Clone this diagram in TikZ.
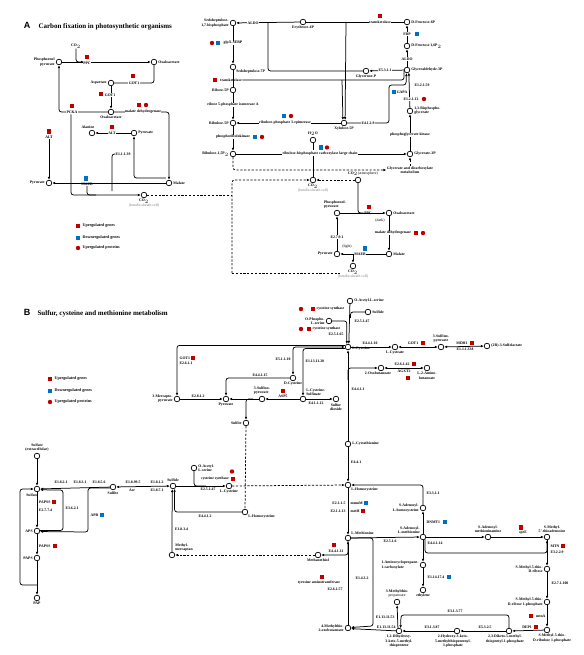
\documentclass[tikz,border=0pt]{standalone}
\usepackage{fontspec}
\setmainfont{Liberation Serif}
\newfontfamily\headfont{Liberation Sans}
\usetikzlibrary{arrows.meta}
\definecolor{upred}{HTML}{C00000}
\definecolor{dnblue}{HTML}{0070C0}
\newcommand{\lbl}{\fontsize{3.8}{4.2}\selectfont\bfseries}
\newcommand{\leg}{\fontsize{4.1}{4.6}\selectfont\bfseries}

\begin{document}
\begin{tikzpicture}[x=1pt,y=-1pt,
	>={Latex[length=3pt,width=2.6pt]},
	rx/.style={line width=0.75pt, rounded corners=2.5pt},
	dsh/.style={line width=0.75pt, dash pattern=on 2.2pt off 1.6pt, rounded corners=2.5pt},
	met/.style={circle, draw, line width=0.7pt, fill=white, inner sep=0pt, minimum size=5.6pt},
	every label/.style={font=\lbl, inner sep=0.4pt, align=center},
	label distance=0.6pt,
	lab/.style={font=\lbl, inner sep=0.4pt, align=center},
	onl/.style={lab, fill=white},
	ug/.style={fill=upred, inner sep=0pt, minimum size=4.2pt},
	dg/.style={fill=dnblue, inner sep=0pt, minimum size=4.2pt},
	pr/.style={circle, fill=upred, inner sep=0pt, minimum size=4.4pt},
	ttl/.style={font=\fontsize{7}{8}\selectfont\bfseries, anchor=west},
	]
	\fill[white] (0,0) rectangle (583,655);
	\useasboundingbox (0,0) rectangle (583,655);

	\node[font=\fontsize{9}{9}\selectfont\headfont\bfseries] (pA) at (27,25) {A};
	\node[ttl] (tA) at (35,27) {Carbon fixation in photosynthetic organisms};

	\node[met,label={[align=right]left:Phosphoenol\\pyruvate}] (pepA) at (59,62) {};
	\node[met,label=right:Oxaloacetate] (oaaA) at (154,62) {};
	\node[met,label=left:Aspartate] (aspA) at (111,83) {};
	\node[met,label=below:Oxaloacetate] (oaaB) at (111,112) {};
	\node[met,label={[xshift=-4pt]above:Alanine}] (alaA) at (92,133) {};
	\node[met,label=right:Pyruvate] (pyrA) at (134,133) {};
	\node[met,label=left:Pyruvate] (pyrB) at (49,183) {};
	\node[met,label=right:Malate] (malA) at (169,183) {};
	\node[met,label={below:CO$_2$\\{\color{gray}\mdseries(bundle-sheath cell)}}] (co2A) at (144,195) {};

	\node[met,label={[align=right]left:Sedoheptulose-\\1,7-bisphosphate}] (sbpA) at (233,23) {};
	\node[met,label=below:Erythrose-4P] (e4pA) at (303,22) {};
	\node[met,label=right:D-Fructose-6P] (f6pA) at (407,22) {};
	\node[met,label={right:D-Fructose 1,6P$_2$}] (fbpA) at (407,46) {};
	\node[met,label=right:Glyceraldehyde-3P] (gapA) at (407,70) {};
	\node[met,label=below:Glycerone-P] (dhapA) at (366,71) {};
	\node[met,label=below right:Sedoheptulose-7P] (s7pA) at (233,67) {};
	\node[met,label=left:Ribose-5P] (r5pA) at (233,90) {};
	\node[met,label=left:Ribulose-5P] (ru5pA) at (233,123) {};
	\node[met,label=below:Xylulose-5P] (x5pA) at (344,123) {};
	\node[met,label={left:Ribulose-1,5P$_2$}] (rubpA) at (233,154) {};
	\node[met,label=above:H$_2$O] (h2oA) at (313,140) {};
	\node[met,label=right:Glycerate-3P] (g3pA) at (410,154) {};
	\node[met,label={[align=left]right:1,3-Bisphospho-\\glycerate}] (bpgA) at (410,111) {};
	\node[met,label={below:CO$_2$\\{\color{gray}\mdseries(bundle-sheath cell)}}] (co2B) at (313,180) {};
	\node[met,label={[xshift=5pt]above:CO$_2${\mdseries(atmosphere)}}] (co2C) at (358,180) {};
	\node[met,label={[align=left,xshift=-2pt]above:Phosphoenol-\\pyruvate}] (pepB) at (337,213) {};
	\node[met,label=right:Oxaloacetate] (oaaC) at (389,213) {};
	\node[met,label=right:Malate] (malB) at (389,254) {};
	\node[met,label=left:Pyruvate] (pyrC) at (337,254) {};
	\node[met,label={below:CO$_2$\\{\color{gray}\mdseries(bundle-sheath cell)}}] (co2D) at (353,266) {};

	\node[lab] (co2a) at (76,46) {CO$_2$};
	\coordinate (ppcin) at (84,62);
	\coordinate (pckc) at (71,114.5);
	\coordinate (maebj) at (96,195);
	\coordinate (e139j) at (112,191);
	\coordinate (dA1) at (232,195); \coordinate (dA2) at (232,273); \coordinate (dA3) at (340,273);
	\coordinate (rbj) at (313,154); \coordinate (h2oj) at (313,150);
	\coordinate (aldj) at (268,23);
	\coordinate (tkj1) at (346,22); \coordinate (tkj2) at (342,80);
	\coordinate (xg1) at (389,123); \coordinate (xg2) at (389,85); \coordinate (xg3) at (406,85);
	\coordinate (mbj) at (353,254.5);
	\node[lab] (gdmA) at (410,170) {Glycerate and dicarboxylate\\metabolism};
	\node[lab,anchor=west] (e11139) at (115,154) {E1.1.1.39};
	\node[lab] (altL) at (49,137) {ALT};
	\node[onl] (maebA) at (87,184) {MAEB};
	\node[onl] (tkt2) at (231,80) {transketolase};
	\node[onl] (ppcB) at (368,213) {PPC};

	\draw[rx, ->] (pepA) -- (oaaA);
	\draw[rx, ->] (co2a.south) |- (ppcin);
	\draw[rx] (oaaA) |- (aspA);
	\draw[rx, ->] (aspA) -- (oaaB);
	\draw[rx, ->] (oaaB) -| (malA);
	\draw[rx, ->] (oaaB) -| (pepA);
	\draw[rx, ->] (pckc) |- (co2A);
	\draw[rx, ->] (pyrA) -- (alaA);
	\draw[rx, ->] (altL.south) -- (pyrB);
	\draw[rx, ->] ([yshift=5pt]malA.west) -| (pyrA);
	\draw[rx, ->] (malA) -- (pyrB);
	\draw[rx] (maebA.south) |- (maebj);
	\draw[rx] (e11139.west) -| (e139j);
	\draw[dsh] (co2A) -- (dA1);
	\draw[dsh, ->] (dA2) |- (co2B);
	\draw[dsh] (dA2) -- (dA3);
	\draw[dsh, ->] (co2C) -- (co2B);
	\draw[rx] (co2B) -- (rbj);
	\draw[rx, ->] (rubpA) -- (g3pA);
	\draw[rx] (h2oA) -- (h2oj);
	\draw[dsh, ->] (rubpA) |- (gdmA.west);
	\draw[dsh, ->] (gdmA.north -| g3pA) -- (g3pA);
	\draw[rx, ->] (g3pA) -- (bpgA);
	\draw[rx, ->] (bpgA) -- (gapA.-55);
	\draw[rx, ->] (gapA) -- (fbpA);
	\draw[rx, ->] (fbpA) -- (f6pA);
	\draw[rx, ->] (gapA) -- (dhapA);
	\draw[rx] (dhapA) -| (aldj);
	\draw[rx, ->] (e4pA) -- (sbpA);
	\draw[rx] (e4pA) -- (f6pA);
	\draw[rx, ->] (tkj1) -- (x5pA.70);
	\draw[rx] (gapA.-160) |- (tkt2.east);
	\draw[rx, ->] (tkj2) -- (x5pA.110);
	\draw[rx] (s7pA) -- (r5pA);
	\draw[rx, ->] (sbpA) -- (s7pA);
	\draw[rx, ->] (r5pA) -- (ru5pA);
	\draw[rx, ->] (ru5pA) -- (rubpA);
	\draw[rx, ->] (x5pA) -- (ru5pA);
	\draw[rx, ->] (x5pA) -- (xg1) -- (xg2) -- (xg3) -- (gapA.-100);
	\draw[rx] (co2C) |- (ppcB.west);
	\draw[rx, ->] (pepB) -- (oaaC);
	\draw[rx, ->] (oaaC) -- (malB);
	\draw[rx, ->] (malB) -- (pyrC);
	\draw[rx, ->] (mbj) -- (co2D);
	\draw[rx, ->] (pyrC) -- (pepB);

	\node[onl] (ppcA) at (87,63) {PPC}; \node[ug] (ppcAu) at (87,57) {};
	\node[onl] (got1a) at (134,83) {GOT1}; \node[ug] (got1au) at (133,76) {};
	\node[onl] (got1b) at (110,95) {GOT1}; \node[ug] (got1bu) at (101,94) {};
	\node[onl] (mdhA) at (143,112) {malate dehydrogenase}; \node[ug] (mdhAu) at (139,105) {}; \node[pr] (mdhAp) at (146,105) {};
	\node[onl] (pckA) at (72,112) {PCKA}; \node[ug] (pckAu) at (72,106) {};
	\node[onl] (altA) at (112,133) {ALT}; \node[ug] (altAu) at (112,127) {};
	\node[ug] (altLu) at (49,131.5) {};
	\node[dg] (maebAd) at (86,178.5) {};
	\node[onl] (aldoA) at (253,23) {ALDO};
	\node[onl] (tkt1) at (380,22) {transketolase}; \node[ug] (tkt1u) at (380,16) {};
	\node[onl] (fbpE) at (407,34) {FBP}; \node[dg] (fbpEd) at (417,34) {};
	\node[onl] (aldoB) at (407,59) {ALDO};
	\node[onl] (e5311) at (385,70.5) {E5.3.1.1};
	\node[onl] (glpx) at (233,43) {glpX-SEBP}; \node[pr] (glpxp) at (212,43) {}; \node[dg] (glpxd) at (218,43) {};
	\node[ug] (tkt2u) at (215,80) {};
	\node[onl] (rpiA) at (233,105) {ribose 5-phosphate isomerase A};
	\node[onl] (rpeA) at (285,123) {ribulose-phosphate 3-epimerase}; \node[dg] (rpeAd) at (284,116) {}; \node[pr] (rpeAp) at (291,116) {};
	\node[onl] (e4129) at (368,123) {E4.1.2.9};
	\node[lab] (gapaA) at (402,92) {GAPA}; \node[dg] (gapaAd) at (394,92) {};
	\node[lab,anchor=west] (e12159) at (414,85) {E1.2.1.59};
	\node[onl] (e12112) at (411,99) {E1.2.1.12}; \node[pr] (e12112p) at (424,99) {};
	\node[onl] (pgkA) at (410,135) {phosphoglycerate kinase};
	\node[onl] (prkA) at (233,137) {phosphoribulokinase}; \node[dg] (prkAd) at (255,137) {}; \node[pr] (prkAp) at (262,137) {};
	\node[onl] (rbcA) at (320,154) {ribulose-bisphosphate carboxylase large chain}; \node[dg] (rbcAd) at (321,147.5) {}; \node[pr] (rbcAp) at (327,147.5) {};
	\node[ug] (ppcBu) at (369,207) {};
	\node[lab] (darkA) at (380,221) {\mdseries(dark)};
	\node[onl] (mdhB) at (393,233) {malate dehydrogenase}; \node[ug] (mdhBu) at (416,233) {}; \node[pr] (mdhBp) at (423,233) {};
	\node[onl] (maebB) at (360,254) {MAEB}; \node[dg] (maebBd) at (365,248.5) {};
	\node[onl] (ppdkA) at (337,237) {E2.7.9.1};
	\node[lab] (lightA) at (347,247) {\mdseries(light)};

	\node[ug] (lgA1) at (78,226) {}; \node[lab,font=\leg,anchor=west] (lgA1t) at (82,226) {Upregulated genes};
	\node[dg] (lgA2) at (78,238) {}; \node[lab,font=\leg,anchor=west] (lgA2t) at (82,238) {Downregulated genes};
	\node[pr] (lgA3) at (78,248) {}; \node[lab,font=\leg,anchor=west] (lgA3t) at (82,248) {Upregulated proteins};

	\node[font=\fontsize{9}{9}\selectfont\headfont\bfseries] (pB) at (27,312) {B};
	\node[ttl] (tB) at (34,314) {Sulfur, cysteine and methionine metabolism};

	\node[met,label={above:Sulfate\\(extracellular)}] (sulx) at (37,456) {};
	\node[met,label={[xshift=-5pt]below:Sulfate}] (sulB) at (37,489) {};
	\node[met,label=left:APS] (apsB) at (37,531) {};
	\node[met,label=left:PAPS] (papsB) at (37,558) {};
	\node[met,label=below:PAP] (papB) at (37,598) {};
	\node[met,label=below:Sulfite] (sfiB) at (113,487) {};
	\node[met,label=above:Sulfide] (sfdB) at (173,486) {};
	\node[met,label={[align=left]above right:Methyl-\\mercaptan}] (mmB) at (172,555) {};
	\node[met,label={[align=left]right:O-Acetyl-\\L-serine}] (oasB) at (194,468) {};
	\node[met,label=below:L-Cysteine] (cysB) at (229,486) {};
	\node[met,label=below right:L-Homocysteine] (hcyB) at (245,512) {};
	\node[met,label=left:Sulfite] (sfiC) at (246,423) {};
	\node[met,label={[align=right]left:3-Mercapto-\\pyruvate}] (mpyB) at (177,399) {};
	\node[met,label=below:Pyruvate] (pyrD) at (226,399) {};
	\node[met,label=below:D-Cysteine] (dcyB) at (293,378) {};
	\node[met,label={[align=left]above:3-Sulfino-\\pyruvate}] (spyB) at (262,399) {};
	\node[met,label={[align=left]above right:L-Cysteine-\\Sulfinate}] (csaB) at (303,399) {};
	\node[met,label={below:Sulfur\\dioxide}] (so2B) at (336,399) {};
	\node[met,label=right:O-Acetyl-L-serine] (oasC) at (350,301) {};
	\node[met,label=right:Sulfide] (sfdC) at (368,312) {};
	\node[met,label={[align=right]left:O-Phospho-\\L-serine}] (opsB) at (329,321) {};
	\node[met,label={[yshift=-1.5pt]right:L-Cysteine}] (lcyB) at (348,347) {};
	\node[met,label=below:L-Cysteate] (cyaB) at (395,347) {};
	\node[met,label={above:3-Sulfino-\\pyruvate}] (spyC) at (441,347) {};
	\node[met,label={right:{(2R)-3-Sulfolactate}}] (slaB) at (487,346) {};
	\node[met,label={[xshift=-3pt]below:2-Oxobutanoate}] (oxbB) at (381,368) {};
	\node[met,label={below:L-2-Amino-\\butanoate}] (abuB) at (427,368) {};
	\node[met,label=right:L-Cystathionine] (ctaB) at (348,444) {};
	\node[met,label=below right:L-Homocysteine] (hcyC) at (348,485) {};
	\node[met,label=above right:L-Methionine] (metB) at (348,538) {};
	\node[met,label=below:Methanethiol] (mthB) at (318,555) {};
	\node[met,label={[align=right]left:4-Methylthio-\\2-oxobutanoate}] (mtoB) at (348,628) {};
	\node[met,label={[align=right]left:S-Adenosyl-\\L-homocysteine}] (sahB) at (423,508) {};
	\node[met,label={[align=right]above left:S-Adenosyl-\\L-methionine}] (samB) at (423,537) {};
	\node[met,label={[align=left]left:1-Aminocyclopropane-\\1-carboxylate}] (accB) at (423,565) {};
	\node[met,label=below:ethylene] (ethB) at (423,590) {};
	\node[met,label={above:S-Adenosyl-\\methioninamine}] (dsmB) at (488,537) {};
	\node[met,label={[xshift=5pt]above:S-Methyl-\\5'-thioadenosine}] (mtaB) at (547,537) {};
	\node[met,label={[align=right]left:S-Methyl-5-thio-\\D-ribose}] (mtrB) at (547,569) {};
	\node[met,label={[align=right]left:S-Methyl-5-thio-\\D-ribose 1-phosphate}] (mrpB) at (547,602) {};
	\node[met,label={[xshift=5pt]below:S-Methyl-5-thio-\\D-ribulose 1-phosphate}] (mrlB) at (547,630) {};
	\node[met,label={[xshift=-4pt]below:2,3-Diketo-5-methyl-\\thiopentyl-1-phosphate}] (dkmB) at (509,631) {};
	\node[met,label={[xshift=-4pt]below:2-Hydroxy-3-keto-\\5-methylthiopentenyl-\\1-phosphate}] (hkmB) at (457,631) {};
	\node[met,label={below:1,2-Dihydroxy-\\3-keto-5-methyl-\\thiopentene}] (dhkB) at (399,631) {};
	\node[met,label={above:3-Methylthio-\\{\mdseries propanoate}}] (mtpB) at (397,602) {};

	\coordinate (e3621j) at (63,490); \coordinate (aprj) at (88,532);
	\coordinate (papj) at (37,585); \coordinate (loopj) at (20,489);
	\coordinate (oasj) at (206,486);
	\coordinate (cbj) at (348,380); \coordinate (sfj) at (350.5,318);
	\coordinate (spj) at (253,399);
	\coordinate (e1432j) at (373,626); \coordinate (e31377j) at (401,615);
	\coordinate (e44114j) at (547,553);

	\draw[rx, ->] (sulx) -- (sulB);
	\draw[rx, ->] (sfiB) -- (sulB);
	\draw[rx, <->] (sfdB) -- (sfiB);
	\draw[rx, ->] (sulB) -- (apsB);
	\draw[rx, ->] (apsB.10) -| (e3621j) -- (sulB.-15);
	\draw[rx, ->] (sfiB.-160) -| (aprj) -- (apsB.-10);
	\draw[rx, ->] (apsB) -- (papsB);
	\draw[rx, ->] (papsB) -- (papB);
	\draw[rx, ->] (papj) -| (loopj) -- (sulB.west);
	\draw[rx, ->] (sfdB) -- (cysB);
	\draw[rx] (oasB) |- (oasj);
	\draw[dsh, ->] (cysB) -- (hcyC);
	\draw[dsh] (sfiC) -- (hcyB);
	\draw[rx, ->] (hcyB) -| (sfdB.-60);
	\draw[rx, ->] (mmB) -- (sfdB.-105);
	\draw[dsh, ->] (mthB) -- (mmB);
	\draw[rx, ->] (metB) |- (mthB);
	\draw[rx, ->] (ctaB) -- (hcyC);
	\draw[rx, ->] (hcyC) -- (metB);
	\draw[rx, ->] (ctaB) -- (lcyB);
	\draw[rx, ->] (cbj) |- (oxbB);
	\draw[rx, <->] (oxbB) -- (abuB);
	\draw[rx, ->] (lcyB) -- (cyaB);
	\draw[rx, <->] (cyaB) -- (spyC);
	\draw[rx, <->] (spyC) -- (slaB);
	\draw[rx, ->] (oasC) -- (lcyB.75);
	\draw[rx] (sfdC) -| (sfj);
	\draw[rx, ->] (opsB) -| (lcyB.112);
	\draw[rx, ->] ([yshift=1.6pt]lcyB.west) -| (mpyB);
	\draw[rx, <->] (lcyB.west) -| (dcyB);
	\draw[rx, ->] ([yshift=-1.6pt]lcyB.west) -| (csaB);
	\draw[rx, ->] (dcyB) -| (pyrD);
	\draw[rx, ->] (mpyB) -- (pyrD);
	\draw[rx, ->] (csaB) -- (spyB);
	\draw[rx, ->] (csaB) -- (so2B);
	\draw[rx, ->] (spyB) -- (pyrD);
	\draw[rx, ->] (spj) -| (sfiC);
	\draw[rx, ->] (sahB) |- (hcyC);
	\draw[rx, ->] (samB) -- (sahB);
	\draw[rx, ->] (metB) -- (samB);
	\draw[rx, ->] (metB) -| (e1432j) -- (mtoB.10);
	\draw[rx, ->] (mtoB) -- (metB);
	\draw[rx, ->] (dhkB) -- (mtoB.-12);
	\draw[rx, ->] (dhkB.110) -- (mtpB);
	\draw[rx, ->] (hkmB) -- (dhkB);
	\draw[rx, ->] (dkmB) -- (hkmB);
	\draw[rx, ->] (dkmB) |- (e31377j) -- (dhkB.60);
	\draw[rx, ->] (mrlB) -- (dkmB);
	\draw[rx, ->] (mrpB) -- (mrlB);
	\draw[rx, ->] (mtrB) -- (mrpB);
	\draw[rx, ->] (mtaB) -- (mtrB);
	\draw[rx, ->] (samB) -- (dsmB);
	\draw[rx, ->] (dsmB) -- (mtaB);
	\draw[rx, ->] (samB.-50) |- (e44114j) -- (mtaB);
	\draw[rx, ->] (samB) -- (accB);
	\draw[rx, ->] (accB) -- (ethB);

	\node[lab] (e1821) at (61,482) {E1.8.2.1};
	\node[lab] (e1831) at (80,482) {E1.8.3.1};
	\node[lab] (e1856) at (99,482) {E1.8.5.6};
	\node[lab] (e18995) at (133,482.5) {E1.8.99.5}; \node[lab] (asr) at (132,490.5) {Asr};
	\node[lab] (e1812) at (157,482.5) {E1.8.1.2}; \node[lab] (e1871) at (157,490.5) {E1.8.7.1};
	\node[lab,anchor=west] (papss1) at (38.5,502) {PAPSS}; \node[ug] (papss1u) at (54,502) {};
	\node[lab,anchor=west] (e2774) at (38.5,510) {E2.7.7.4};
	\node[lab,anchor=west] (e3621) at (65,508) {E3.6.2.1};
	\node[lab,anchor=west] (aprB) at (90,515) {APR}; \node[dg] (aprBd) at (102,515) {};
	\node[lab,anchor=west] (papss2) at (38.5,546) {PAPSS}; \node[ug] (papss2u) at (55,546) {};
	\node[lab] (cysC) at (215,479) {cysteine synthase}; \node[ug] (cysCu) at (233,479) {}; \node[pr] (cysCp) at (232,471.5) {};
	\node[lab] (e25147a) at (208,489.5) {E2.5.1.47};
	\node[lab] (e4412) at (205,516) {E4.4.1.2};
	\node[lab,anchor=west] (e1834) at (174.5,529) {E1.8.3.4};
	\node[lab,anchor=west] (got1c) at (179,358) {GOT1}; \node[ug] (got1cu) at (193,358) {};
	\node[lab,anchor=west] (e2611) at (179,363.5) {E2.6.1.1};
	\node[lab] (e2812) at (198,396) {E2.8.1.2};
	\node[lab] (e44115) at (260,375.5) {E4.4.1.15};
	\node[lab,anchor=east] (e51110) at (291,359) {E5.1.1.10};
	\node[lab,anchor=west] (e1131120) at (305,361) {E1.13.11.20};
	\node[lab] (asp5) at (283,396.5) {ASP5}; \node[ug] (asp5u) at (283,391) {};
	\node[lab] (e41112) at (316,403) {E4.1.1.12};
	\node[pr] (cysAp) at (301,309) {}; \node[ug] (cysAu) at (313,309) {};
	\node[lab,anchor=west] (cysA) at (316,309) {cysteine synthase};
	\node[lab,anchor=west] (e25147b) at (354,321) {E2.5.1.47};
	\node[pr] (cysBp) at (301,329) {}; \node[ug] (cysBu) at (309,329) {};
	\node[lab,anchor=west,fill=white] (cysBt) at (312,329) {cysteine synthase};
	\node[lab] (e25165) at (336,334.5) {E2.5.1.65};
	\node[lab] (e44110) at (370,343) {E4.4.1.10};
	\node[lab] (got1d) at (413,343) {GOT1}; \node[ug] (got1du) at (423,343) {};
	\node[lab] (mdh1) at (462,343) {MDH1}; \node[ug] (mdh1u) at (472,343) {};
	\node[lab] (e111338) at (465,349.5) {E1.1.1.338};
	\node[lab] (e26142) at (402,364.5) {E2.6.1.42}; \node[ug] (e26142u) at (414,364) {};
	\node[lab] (agxt2) at (404,371.5) {AGXT2}; \node[ug] (agxt2u) at (408,378) {};
	\node[lab,anchor=west] (e4411) at (351,389) {E4.4.1.1};
	\node[lab,anchor=west] (e441) at (350.5,462) {E4.4.1};
	\node[lab,anchor=west] (e3311) at (426,493) {E3.3.1.1};
	\node[lab,anchor=east] (e2115) at (346,503) {E2.1.1.5}; \node[lab,anchor=west] (mmum) at (350,503) {mmuM}; \node[dg] (mmumd) at (366,503) {};
	\node[lab,anchor=east] (e21113) at (346,511) {E2.1.1.13}; \node[lab,anchor=west] (meth1) at (350,511) {metH}; \node[ug] (meth1u) at (363,511) {};
	\node[lab,anchor=west] (dnmt1) at (426,522) {DNMT1}; \node[dg] (dnmt1d) at (445,522) {};
	\node[lab] (e2516) at (390,541.5) {E2.5.1.6};
	\node[lab] (spee) at (523,533) {speE}; \node[ug] (speeu) at (521,527.5) {};
	\node[lab,anchor=west] (e44114) at (427,543) {E4.4.1.14};
	\node[lab,anchor=west] (mtn) at (550,546) {MTN}; \node[ug] (mtnu) at (563,546) {};
	\node[lab,anchor=west] (e3229) at (550,552) {E3.2.2.9};
	\node[lab,anchor=west] (e271100) at (551,583) {E2.7.1.100};
	\node[lab,anchor=east] (mtna) at (546,616) {mtnA}; \node[ug] (mtnau) at (531,616) {};
	\node[lab] (dep1) at (527,627) {DEP1}; \node[ug] (dep1u) at (536,627) {};
	\node[lab] (e5325) at (485,627.5) {E5.3.2.5};
	\node[lab] (e31387) at (432,627.5) {E3.1.3.87};
	\node[lab] (e31377) at (455,611.5) {E3.1.3.77};
	\node[lab,anchor=east] (e1131153) at (395,617) {E1.13.11.53};
	\node[lab,anchor=east] (e1131154) at (396,627) {E1.13.11.54};
	\node[lab] (e1432) at (362,578) {E1.4.3.2};
	\node[lab] (e44111) at (336,551) {E4.4.1.11}; \node[ug] (e44111u) at (334,545) {};
	\node[lab] (tyat) at (319,583) {tyrosine aminotransferase}; \node[ug] (tyatu) at (322,577) {};
	\node[lab] (e26157) at (335,589.5) {E2.6.1.57};
	\node[lab,anchor=west] (e114174) at (427,577) {E1.14.17.4}; \node[dg] (e114174d) at (449,577) {};

	\node[ug] (lgB1) at (50,379) {}; \node[lab,font=\leg,anchor=west] (lgB1t) at (54,379) {Upregulated genes};
	\node[dg] (lgB2) at (50,391) {}; \node[lab,font=\leg,anchor=west] (lgB2t) at (54,391) {Downregulated genes};
	\node[pr] (lgB3) at (50,402) {}; \node[lab,font=\leg,anchor=west] (lgB3t) at (54,402) {Upregulated proteins};
\end{tikzpicture}
\end{document}
